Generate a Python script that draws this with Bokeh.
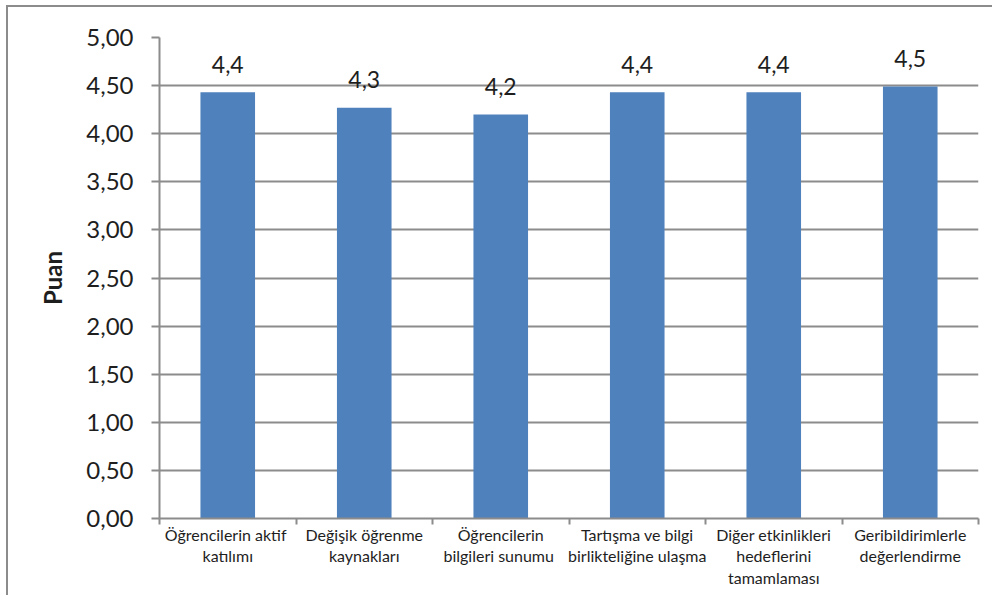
from bokeh.plotting import figure
from bokeh.models import Range1d, FixedTicker, ColumnDataSource
from bokeh.core.properties import value
from bokeh.embed import file_html
from bokeh.resources import INLINE

categories = [
    "Öğrencilerin  aktif\nkatılımı",
    "Değişik öğrenme\nkaynakları",
    "Öğrencilerin\nbilgileri  sunumu",
    "Tartışma ve bilgi\nbirlikteliğine ulaşma",
    "Diğer etkinlikleri\nhedeflerini\ntamamlaması",
    "Geribildirimlerle\ndeğerlendirme",
]
values = [4.43, 4.27, 4.20, 4.43, 4.43, 4.49]
value_labels = ["4,4", "4,3", "4,2", "4,4", "4,4", "4,5"]
y_ticks = [0.0, 0.5, 1.0, 1.5, 2.0, 2.5, 3.0, 3.5, 4.0, 4.5, 5.0]
y_tick_labels = ["0,00", "0,50", "1,00", "1,50", "2,00", "2,50",
                 "3,00", "3,50", "4,00", "4,50", "5,00"]
y_axis_title = "Puan"

FONT = "Lato"
GRAY = "#8c8c8c"
TEXT = "#1e1e1e"
BAR = "#4f81bd"

n = len(categories)
centers = [i + 0.5 for i in range(n)]
bounds = [float(i) for i in range(n + 1)]

src = ColumnDataSource(dict(x=centers, top=values, lab=value_labels))

p = figure(width=986, height=590, x_range=Range1d(0, n), y_range=Range1d(0, 5),
           output_backend="svg", toolbar_location=None,
           min_border_left=151, min_border_right=16,
           min_border_top=30, min_border_bottom=79)
p.outline_line_color = None
p.background_fill_color = "white"
p.border_fill_color = "white"
p.styles = {"border-left": "2px solid #8c8c8c", "border-top": "2px solid #8c8c8c",
            "margin-left": "6px", "margin-top": "5px"}

p.vbar(x="x", top="top", bottom=0, width=0.40, source=src,
       fill_color=BAR, line_color=None)
p.text(x="x", y="top", text="lab", source=src, text_align="center",
       text_baseline="alphabetic", y_offset=-28,
       text_font=value(FONT), text_font_size="23px", text_color=TEXT)

# grids
p.xgrid.grid_line_color = None
p.ygrid.grid_line_color = GRAY
p.ygrid.grid_line_width = 2

# y axis
ya = p.yaxis[0]
ya.ticker = FixedTicker(ticks=y_ticks)
ya.major_label_overrides = {t: l for t, l in zip(y_ticks, y_tick_labels)}
ya.major_label_text_font = FONT
ya.major_label_text_font_size = "24px"
ya.major_label_text_color = TEXT
ya.major_label_standoff = 18
ya.major_tick_out = 8
ya.major_tick_in = 0
ya.major_tick_line_color = GRAY
ya.major_tick_line_width = 2
ya.minor_tick_line_color = None
ya.axis_line_color = GRAY
ya.axis_line_width = 2
ya.axis_label = y_axis_title
ya.axis_label_text_font = FONT
ya.axis_label_text_font_size = "24px"
ya.axis_label_text_font_style = "bold"
ya.axis_label_text_color = TEXT
ya.axis_label_standoff = 16

# x axis
xa = p.xaxis[0]
xa.ticker = FixedTicker(ticks=centers, minor_ticks=bounds)
xa.major_label_overrides = {float(c): cat for c, cat in zip(centers, categories)}
xa.major_label_text_font = FONT
xa.major_label_text_font_size = "16px"
xa.major_label_text_color = TEXT
xa.major_label_text_line_height = 1.15
xa.major_label_standoff = 0
xa.major_tick_out = 0
xa.major_tick_in = 0
xa.major_tick_line_color = None
xa.minor_tick_out = 6
xa.minor_tick_in = 0
xa.minor_tick_line_color = GRAY
xa.minor_tick_line_width = 2
xa.axis_line_color = GRAY
xa.axis_line_width = 2

open("out.html", "w").write(file_html(p, INLINE))
